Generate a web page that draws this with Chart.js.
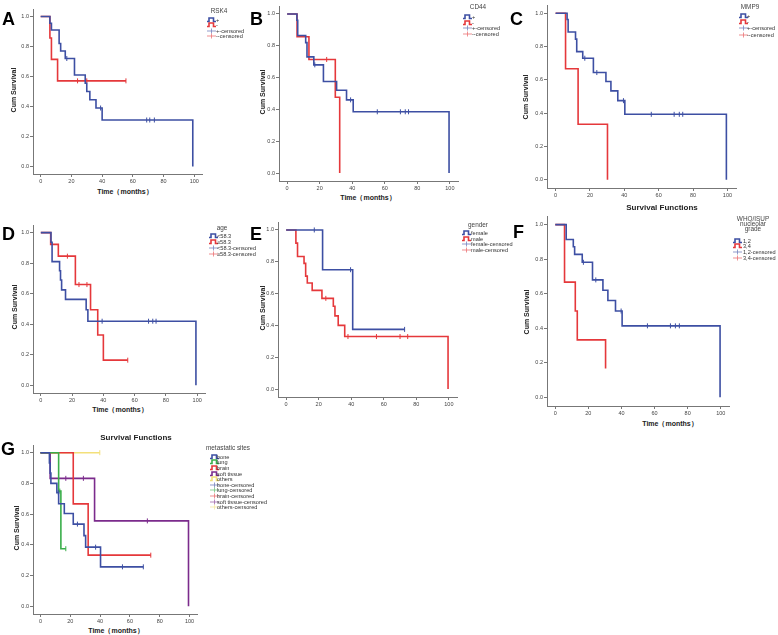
<!DOCTYPE html>
<html lang="en">
<head>
<meta charset="UTF-8">
<title>Survival curves</title>
<script src="https://cdn.jsdelivr.net/npm/chart.js"></script>
<style>
  body { margin: 0; background: #fff; font-family: Arial, "Liberation Sans", sans-serif; }
  #page { position: relative; width: 778px; height: 635px; overflow: hidden; }
  canvas { position: absolute; }
  .t { position: absolute; white-space: nowrap; color: #222; }
  .letter { font-weight: bold; font-size: 18px; line-height: 18px; color: #000; }
  .axt { font-weight: bold; font-size: 7px; line-height: 8px; transform: translate(-50%, -50%); }
  .ttl { font-weight: bold; font-size: 8px; line-height: 9px; transform: translate(-50%, -50%); }
  .lg { font-size: 5.6px; line-height: 6px; color: #333; }
  .lgt { font-size: 6.4px; line-height: 6px; color: #444; transform: translateX(-50%); }
</style>
</head>
<body>
<div id="page"></div>
<script>
// axis ticks
const timeTicks = [0, 20, 40, 60, 80, 100];
const survTicks = [0, 0.2, 0.4, 0.6, 0.8, 1.0];

// A: RSK4
const rsk4PosT = [6, 7, 12, 13, 16, 22, 29, 30, 32, 36, 40, 99];
const rsk4PosS = [0.955, 0.91, 0.82, 0.77, 0.72, 0.61, 0.555, 0.50, 0.445, 0.39, 0.31, 0];
const rsk4PosC = [17, 39, 69, 71, 74];
const rsk4NegT = [6, 7, 11];
const rsk4NegS = [0.857, 0.714, 0.571];
const rsk4NegC = [24, 30, 55.5];

// B: CD44
const cd44PosT = [6, 6.5, 11.4, 12.2, 16.4, 22.3, 30.4, 36.5, 40.6, 99.5];
const cd44PosS = [0.96, 0.865, 0.82, 0.73, 0.68, 0.575, 0.52, 0.46, 0.385, 0];
const cd44PosC = [17, 39, 55.4, 69.6, 72.6, 74.6];
const cd44NegT = [6.1, 13.4, 29.6, 32.3];
const cd44NegS = [0.857, 0.714, 0.476, 0];
const cd44NegC = [24.3];

// C: MMP9
const mmp9PosT = [6.7, 7.3, 11.6, 12.3, 15.8, 22, 29.3, 32.2, 36.2, 40.3, 99.4];
const mmp9PosS = [0.963, 0.888, 0.845, 0.77, 0.73, 0.644, 0.59, 0.534, 0.475, 0.393, 0];
const mmp9PosC = [17, 24, 39.5, 55.7, 69, 72, 74];
const mmp9NegT = [5.8, 13.1, 30.2];
const mmp9NegS = [0.667, 0.333, 0];
const mmp9NegC = [];

// D: age
const ageLowT = [6.5, 7.2, 12, 12.6, 13.3, 15.8, 29, 30.1, 99.2];
const ageLowS = [0.937, 0.81, 0.75, 0.69, 0.625, 0.563, 0.495, 0.42, 0];
const ageLowC = [39.2, 68.9, 71.6, 73.7];
const ageHighT = [6.3, 11.2, 22.1, 31.8, 36.4, 40];
const ageHighS = [0.923, 0.846, 0.66, 0.495, 0.33, 0.165];
const ageHighC = [17, 24.4, 29.5, 55.6];

// E: gender
const femT = [22.4, 40.9];
const femS = [0.75, 0.375];
const femC = [17.3, 39.6, 72.8];
const maleT = [6, 7, 11, 12, 13, 16, 22, 29, 30, 32, 36, 99.5];
const maleS = [0.917, 0.833, 0.79, 0.71, 0.667, 0.62, 0.57, 0.52, 0.46, 0.40, 0.33, 0];
const maleC = [24.4, 38, 55.5, 70, 74.7];

// F: WHO/ISUP nucleolar grade
const g12T = [6.6, 10.9, 11.7, 16.3, 22.5, 28.8, 31.8, 36.4, 40.4, 99.6];
const g12S = [0.914, 0.872, 0.828, 0.782, 0.68, 0.62, 0.561, 0.5, 0.414, 0];
const g12C = [17, 24.5, 39.8, 55.7, 69.6, 72.6, 75];
const g34T = [5.6, 12.1, 13.3, 30.4];
const g34S = [0.667, 0.5, 0.333, 0.167];
const g34C = [];

// G: metastatic sites
const boneT = [6, 6.5, 7, 11, 12.2, 16, 22, 29.2, 30.3, 40.3];
const boneS = [0.933, 0.867, 0.80, 0.74, 0.668, 0.604, 0.535, 0.46, 0.385, 0.257];
const boneC = [12, 24.8, 37, 55, 69];
const lungT = [12.2, 13.7];
const lungS = [0.75, 0.375];
const lungC = [13, 17];
const brainT = [22, 32];
const brainS = [0.667, 0.333];
const brainC = [74];
const softT = [6.5, 36.3, 99.3];
const softS = [0.833, 0.556, 0];
const softC = [17, 28.8, 71.7];
const othersT = [];
const othersS = [];
const othersC = [39.8];

const BLUE = '#3d4fa3', RED = '#e5383b', GREEN = '#3aae4a', PURPLE = '#7b2b8c', YELLOW = '#f3e07a';
const page = document.getElementById('page');

function survAt(T, S, t) {
  let s = 1;
  for (let i = 0; i < T.length; i++) if (T[i] <= t) s = S[i];
  return s;
}

function groupSets(T, S, C, color) {
  const pts = [{x: 0, y: 1}];
  T.forEach((t, i) => pts.push({x: t, y: S[i]}));
  const lastT = T.length ? T[T.length - 1] : 0;
  const lastC = C.length ? C[C.length - 1] : 0;
  if (lastC > lastT) pts.push({x: lastC, y: survAt(T, S, lastC)});
  return [
    {data: pts, borderColor: color, borderWidth: 1.6, stepped: true, pointRadius: 0, fill: false},
    {data: C.map(t => ({x: t, y: survAt(T, S, t)})), showLine: false, borderColor: color,
     pointStyle: 'line', rotation: 90, pointRadius: 2.5, borderWidth: 1}
  ];
}

function drawKM(box, groups) {
  const yW = 22, xH = 13, padT = Math.min(3, box.t), padR = 3;
  const c = document.createElement('canvas');
  const w = box.r - box.l + yW + padR, h = box.b - box.t + padT + xH;
  c.width = w; c.height = h;
  c.style.left = (box.l - yW) + 'px';
  c.style.top = (box.t - padT) + 'px';
  c.style.width = w + 'px'; c.style.height = h + 'px';
  page.appendChild(c);
  const datasets = [];
  groups.forEach(g => datasets.push(...groupSets(g[0], g[1], g[2], g[3])));
  const tickFont = {family: 'Arial', size: 5.5};
  new Chart(c, {
    type: 'line',
    data: {datasets},
    options: {
      responsive: false, animation: false, devicePixelRatio: 1,
      layout: {padding: {top: padT, right: padR, left: 0, bottom: 0}},
      plugins: {legend: {display: false}, tooltip: {enabled: false}},
      scales: {
        x: {
          type: 'linear', min: -5, max: 105,
          afterBuildTicks: s => { s.ticks = timeTicks.map(v => ({value: v})); },
          afterFit: s => { s.height = xH; },
          ticks: {font: tickFont, color: '#444', padding: 1, maxRotation: 0, autoSkip: false, callback: v => v},
          grid: {drawOnChartArea: false, tickLength: 3, color: '#777'},
          border: {color: '#777'}
        },
        y: {
          type: 'linear', min: -0.05, max: 1.05,
          afterBuildTicks: s => { s.ticks = survTicks.map(v => ({value: v})); },
          afterFit: s => { s.width = yW; },
          ticks: {font: tickFont, color: '#444', padding: 1, autoSkip: false, callback: v => v.toFixed(1)},
          grid: {drawOnChartArea: false, tickLength: 3, color: '#777'},
          border: {color: '#777'}
        }
      }
    }
  });
}

function text(str, x, y, cls, extra) {
  const d = document.createElement('div');
  d.className = 't ' + cls;
  d.textContent = str;
  d.style.left = x + 'px';
  d.style.top = y + 'px';
  if (extra) Object.assign(d.style, extra);
  page.appendChild(d);
  return d;
}

function icon(kind, color, x, y) {
  const ns = 'http://www.w3.org/2000/svg';
  const svg = document.createElementNS(ns, 'svg');
  svg.setAttribute('width', 9); svg.setAttribute('height', 6);
  svg.style.position = 'absolute';
  svg.style.left = x + 'px'; svg.style.top = (y - 3) + 'px';
  if (kind === 'step') {
    const p = document.createElementNS(ns, 'polyline');
    p.setAttribute('points', '0,4.5 2,4.5 2,1 6.5,1 6.5,4.5 9,4.5');
    p.setAttribute('fill', 'none'); p.setAttribute('stroke', color); p.setAttribute('stroke-width', 1.6);
    svg.appendChild(p);
  } else {
    const p = document.createElementNS(ns, 'path');
    p.setAttribute('d', 'M0,3 H9 M4.5,0.5 V5.5');
    p.setAttribute('stroke', color); p.setAttribute('stroke-width', 0.8); p.setAttribute('opacity', 0.7);
    svg.appendChild(p);
  }
  page.appendChild(svg);
}

function legend(titleLines, tcx, ty, rows, ix, txl, y0, dy) {
  titleLines.forEach((s, i) => text(s, tcx, ty - 3 + i * 5, 'lgt'));
  rows.forEach((r, i) => {
    const y = y0 + i * dy;
    icon(r[2], r[1], ix, y);
    text(r[0], txl, y - 3, 'lg');
  });
}

function yTitle(x, y) { text('Cum Survival', x, y, 'axt', {transform: 'translate(-50%, -50%) rotate(-90deg)'}); }
function xTitle(x, y) { text('Time\uFF08months\uFF09', x, y, 'axt'); }

// panels
drawKM({l: 33, r: 204, t: 7, b: 174}, [[rsk4PosT, rsk4PosS, rsk4PosC, BLUE], [rsk4NegT, rsk4NegS, rsk4NegC, RED]]);
drawKM({l: 279, r: 460, t: 4, b: 181}, [[cd44PosT, cd44PosS, cd44PosC, BLUE], [cd44NegT, cd44NegS, cd44NegC, RED]]);
drawKM({l: 547, r: 738, t: 2, b: 188}, [[mmp9PosT, mmp9PosS, mmp9PosC, BLUE], [mmp9NegT, mmp9NegS, mmp9NegC, RED]]);
drawKM({l: 33, r: 207, t: 223, b: 393}, [[ageLowT, ageLowS, ageLowC, BLUE], [ageHighT, ageHighS, ageHighC, RED]]);
drawKM({l: 278, r: 459, t: 220, b: 397}, [[femT, femS, femC, BLUE], [maleT, maleS, maleC, RED]]);
drawKM({l: 547, r: 731, t: 214, b: 406}, [[g12T, g12S, g12C, BLUE], [g34T, g34S, g34C, RED]]);
drawKM({l: 33, r: 199, t: 443, b: 614}, [
  [boneT, boneS, boneC, BLUE], [lungT, lungS, lungC, GREEN], [brainT, brainS, brainC, RED],
  [softT, softS, softC, PURPLE], [othersT, othersS, othersC, YELLOW]]);

// panel letters
[['A', 2, 9.5], ['B', 250, 9.5], ['C', 510, 9.5], ['D', 2, 224.5], ['E', 250, 224.5], ['F', 513, 222.5], ['G', 1, 439.5]]
  .forEach(l => text(l[0], l[1], l[2], 'letter'));

// axis titles
yTitle(14, 90); yTitle(263, 92); yTitle(526, 97);
yTitle(15, 307); yTitle(263, 308); yTitle(527, 312); yTitle(17, 528);
xTitle(125, 192); xTitle(368, 198); xTitle(120, 410); xTitle(670, 424); xTitle(116, 631);
text('Survival Functions', 662, 207, 'ttl');
text('Survival Functions', 136, 437, 'ttl');

// legends
legend(['RSK4'], 219, 10.7, [['+', BLUE, 'step'], ['-', RED, 'step'], ['+-censored', BLUE, 'cens'], ['--censored', RED, 'cens']], 207, 216, 20, 5.4);
legend(['CD44'], 478, 7, [['+', BLUE, 'step'], ['-', RED, 'step'], ['+-censored', BLUE, 'cens'], ['--censored', RED, 'cens']], 463, 472, 17, 5.7);
legend(['MMP9'], 750, 7, [['+', BLUE, 'step'], ['-', RED, 'step'], ['+-censored', BLUE, 'cens'], ['--censored', RED, 'cens']], 739, 747, 16, 6.2);
legend(['age'], 222, 228, [['<58.3', BLUE, 'step'], ['\u226558.3', RED, 'step'], ['<58.3-censored', BLUE, 'cens'], ['\u226558.3-censored', RED, 'cens']], 209, 217, 235.7, 6);
legend(['gender'], 478, 225, [['female', BLUE, 'step'], ['male', RED, 'step'], ['female-censored', BLUE, 'cens'], ['male-censored', RED, 'cens']], 462, 471, 232.7, 5.8);
legend(['WHO/ISUP', 'nucleolar', 'grade'], 753, 219, [['1,2', BLUE, 'step'], ['3,4', RED, 'step'], ['1,2-censored', BLUE, 'cens'], ['3,4-censored', RED, 'cens']], 733, 743, 240.7, 5.7);
legend(['metastatic sites'], 228, 448, [
  ['bone', BLUE, 'step'], ['lung', GREEN, 'step'], ['brain', RED, 'step'], ['soft tissue', PURPLE, 'step'], ['others', YELLOW, 'step'],
  ['bone-censored', BLUE, 'cens'], ['lung-censored', GREEN, 'cens'], ['brain-censored', RED, 'cens'],
  ['soft tissue-censored', PURPLE, 'cens'], ['others-censored', YELLOW, 'cens']], 210, 217, 456.7, 5.6);
</script>
</body>
</html>
